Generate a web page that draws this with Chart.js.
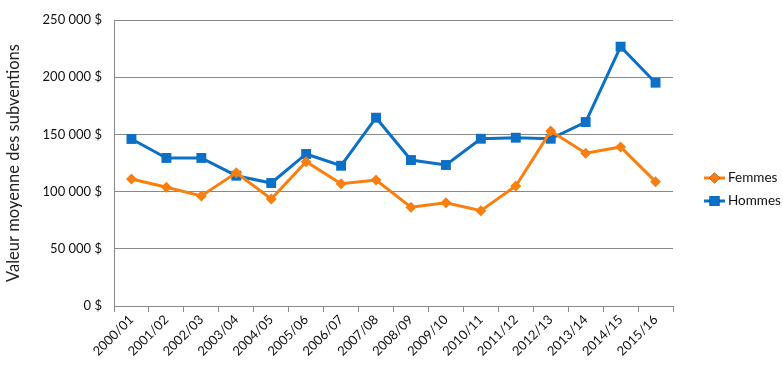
<!DOCTYPE html>
<html lang="fr">
<head>
  <meta charset="UTF-8">
  <title>Valeur moyenne des subventions</title>
  <script src="https://cdn.jsdelivr.net/npm/chart.js"></script>
  <style>
    html, body { margin: 0; padding: 0; background: #fff; }
    #wrap { width: 783px; height: 384px; }
  </style>
</head>
<body>
  <div id="wrap"><canvas id="chart" width="783" height="384"></canvas></div>

  <script>
    const years = ['2000/01', '2001/02', '2002/03', '2003/04', '2004/05', '2005/06', '2006/07', '2007/08',
      '2008/09', '2009/10', '2010/11', '2011/12', '2012/13', '2013/14', '2014/15', '2015/16'];
    const femmes = [111000, 103800, 96200, 116500, 93500, 126100, 106900, 110100,
      86300, 90300, 83300, 104900, 152900, 133500, 139000, 108700];
    const hommes = [146000, 129400, 129400, 113900, 107500, 132900, 122600, 164600,
      127600, 123250, 146200, 147100, 146200, 160800, 226700, 195200];
    const yTicks = [0, 50000, 100000, 150000, 200000, 250000];

    const ORANGE = '#fa7f0e';
    const BLUE = '#0b70c6';
    const GRID = '#898989';
    const FONT = 'Lato, "Open Sans", sans-serif';

    function money(v) {
      return v.toString().replace(/\B(?=(\d{3})+(?!\d))/g, ' ') + ' $';
    }

    // legend drawn by hand so it sits where Excel puts it
    const sideLegend = {
      id: 'sideLegend',
      afterDraw(chart) {
        const ctx = chart.ctx;
        const items = chart.data.datasets;
        ctx.save();
        items.forEach((ds, i) => {
          const y = 178 + i * 23;
          ctx.strokeStyle = ds.borderColor;
          ctx.lineWidth = 3;
          ctx.beginPath();
          ctx.moveTo(704, y);
          ctx.lineTo(725, y);
          ctx.stroke();
          Chart.helpers.drawPoint(ctx, {
            pointStyle: ds.pointStyle,
            radius: ds.pointRadius,
            borderWidth: 0
          }, 714.5, y);
          ctx.fillStyle = ds.borderColor;
          ctx.fill();
          ctx.fillStyle = '#111';
          ctx.font = '13.5px ' + FONT;
          ctx.textBaseline = 'middle';
          ctx.fillText(ds.label, 728, y);
        });
        ctx.restore();
      }
    };

    new Chart(document.getElementById('chart').getContext('2d'), {
      type: 'line',
      data: {
        labels: years,
        datasets: [
          {
            label: 'Femmes',
            data: femmes,
            borderColor: ORANGE,
            backgroundColor: ORANGE,
            borderWidth: 3,
            pointStyle: 'rectRot',
            pointRadius: 5.5,
            pointBorderWidth: 0,
            pointHoverRadius: 5.5,
            tension: 0
          },
          {
            label: 'Hommes',
            data: hommes,
            borderColor: BLUE,
            backgroundColor: BLUE,
            borderWidth: 3,
            pointStyle: 'rect',
            pointRadius: 7,
            pointBorderWidth: 0,
            pointHoverRadius: 7,
            tension: 0
          }
        ]
      },
      options: {
        responsive: false,
        animation: false,
        layout: { padding: { top: 20, right: 110, left: 0, bottom: 0 } },
        plugins: {
          legend: { display: false },
          tooltip: { enabled: false }
        },
        scales: {
          x: {
            offset: true,
            grid: { offset: true, drawOnChartArea: false, color: GRID, tickLength: 6 },
            border: { color: GRID },
            ticks: {
              color: '#111',
              font: { family: FONT, size: 13 },
              minRotation: 45,
              maxRotation: 45,
              padding: 0
            },
            afterFit(scale) { scale.height = 78; }
          },
          y: {
            min: 0,
            max: 250000,
            afterBuildTicks(scale) { scale.ticks = yTicks.map(v => ({ value: v })); },
            grid: { color: GRID, drawTicks: false },
            border: { color: GRID },
            ticks: {
              color: '#111',
              font: { family: FONT, size: 13 },
              padding: 12,
              callback: v => money(v)
            },
            title: {
              display: true,
              text: 'Valeur moyenne des subventions',
              color: '#222',
              font: { family: FONT, size: 16.5 },
              padding: { top: 4, bottom: 0 }
            },
            afterFit(scale) { scale.width = 114; }
          }
        }
      },
      plugins: [sideLegend]
    });
  </script>
</body>
</html>
